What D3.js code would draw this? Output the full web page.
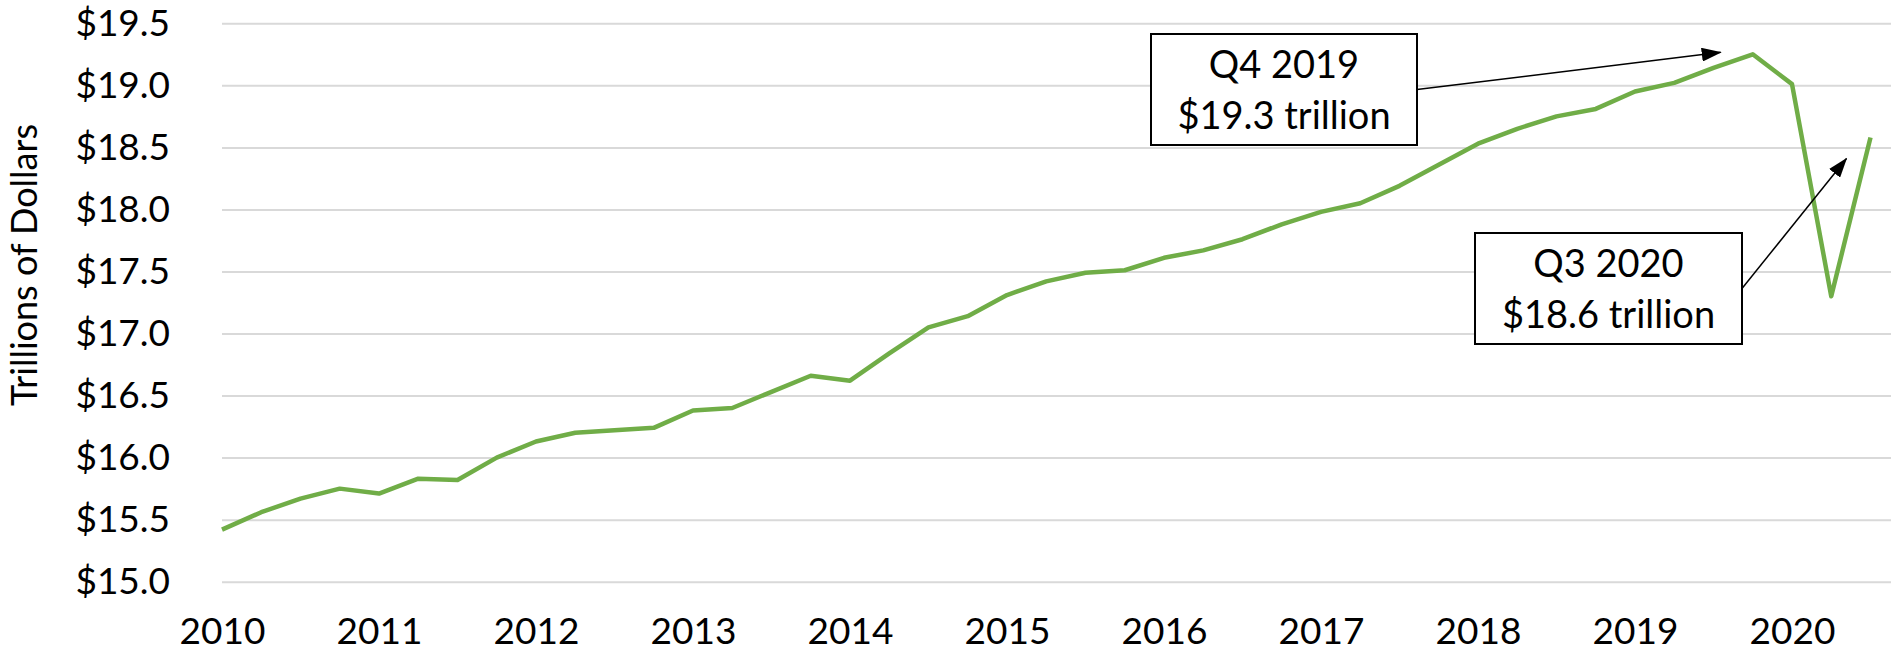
<!DOCTYPE html>
<html>
<head>
<meta charset="utf-8">
<script src="https://cdn.jsdelivr.net/npm/d3@7"></script>
<style>
  body { margin: 0; background: #fff; }
  svg text { font-family: Lato, "Open Sans", sans-serif; fill: #000; }
</style>
</head>
<body>
<svg id="chart" width="1892" height="654"></svg>
<script>
// Real GDP, trillions of chained dollars, quarterly 2010 Q1 .. 2020 Q3
var quarters = [
  '2010 Q1','2010 Q2','2010 Q3','2010 Q4','2011 Q1','2011 Q2','2011 Q3','2011 Q4',
  '2012 Q1','2012 Q2','2012 Q3','2012 Q4','2013 Q1','2013 Q2','2013 Q3','2013 Q4',
  '2014 Q1','2014 Q2','2014 Q3','2014 Q4','2015 Q1','2015 Q2','2015 Q3','2015 Q4',
  '2016 Q1','2016 Q2','2016 Q3','2016 Q4','2017 Q1','2017 Q2','2017 Q3','2017 Q4',
  '2018 Q1','2018 Q2','2018 Q3','2018 Q4','2019 Q1','2019 Q2','2019 Q3','2019 Q4',
  '2020 Q1','2020 Q2','2020 Q3'
];
var gdp = [
  15.42, 15.56, 15.67, 15.75, 15.71, 15.83, 15.82, 16.00,
  16.13, 16.20, 16.22, 16.24, 16.38, 16.40, 16.53, 16.66,
  16.62, 16.84, 17.05, 17.14, 17.31, 17.42, 17.49, 17.51,
  17.61, 17.67, 17.76, 17.88, 17.98, 18.05, 18.19, 18.36,
  18.53, 18.65, 18.75, 18.81, 18.95, 19.02, 19.14, 19.25,
  19.01, 17.30, 18.58
];
var yearLabels = ['2010','2011','2012','2013','2014','2015','2016','2017','2018','2019','2020'];
var yTicks = [15.0, 15.5, 16.0, 16.5, 17.0, 17.5, 18.0, 18.5, 19.0, 19.5];
var yTitle = 'Trillions of Dollars';

// callouts: which quarter they point at, and their two text lines
var noteQuarters = ['2019 Q4', '2020 Q3'];
var noteLines = [['Q4 2019', '$19.3 trillion'], ['Q3 2020', '$18.6 trillion']];

// layout (plot edges in px)
var plotLeft = 222, plotRight = 1870.5, plotTop = 23.3, plotBottom = 581.7;

var svg = d3.select('#chart');

var x = d3.scaleLinear().domain([0, quarters.length - 1]).range([plotLeft, plotRight]);
var y = d3.scaleLinear().domain([15, 19.5]).range([plotBottom, plotTop]);

// y axis labels + horizontal gridlines
var yAxis = d3.axisLeft(y)
  .tickValues(yTicks)
  .tickFormat(function (d) { return '$' + d3.format('.1f')(d); })
  .tickSizeInner(-(1891 - plotLeft))
  .tickSizeOuter(0)
  .tickPadding(52);

var yg = svg.append('g')
  .attr('transform', 'translate(' + plotLeft + ',0)')
  .call(yAxis);
yg.select('.domain').remove();
yg.selectAll('.tick line').attr('stroke', '#d9d9d9').attr('stroke-width', 2);
yg.selectAll('.tick text')
  .style('font-size', '37px')
  .attr('fill', '#000');

// x axis: year labels under each Q1
var xAxis = d3.axisBottom(x)
  .tickValues(yearLabels.map(function (d, i) { return i * 4; }))
  .tickFormat(function (d, i) { return yearLabels[i]; })
  .tickSize(0)
  .tickPadding(0);

var xg = svg.append('g')
  .attr('transform', 'translate(0,' + 618 + ')')
  .call(xAxis);
xg.select('.domain').remove();
xg.selectAll('.tick text')
  .style('font-size', '37px')
  .attr('fill', '#000');

// axis title
svg.append('text')
  .attr('transform', 'translate(37,' + 265 + ') rotate(-90)')
  .attr('text-anchor', 'middle')
  .style('font-size', '36px')
  .text(yTitle);

// the GDP line
var line = d3.line()
  .x(function (d, i) { return x(i); })
  .y(function (d) { return y(d); });

svg.append('path')
  .datum(gdp)
  .attr('d', line)
  .attr('fill', 'none')
  .attr('stroke', '#70ad47')
  .attr('stroke-width', 4.5)
  .attr('stroke-linejoin', 'round');

// arrowhead
svg.append('defs').append('marker')
  .attr('id', 'arrow')
  .attr('markerUnits', 'userSpaceOnUse')
  .attr('viewBox', '0 0 20 14')
  .attr('refX', 19)
  .attr('refY', 7)
  .attr('markerWidth', 20)
  .attr('markerHeight', 14)
  .attr('orient', 'auto')
  .append('path')
  .attr('d', 'M0,0 L20,7 L0,14 Z')
  .attr('fill', '#000');

// callout boxes (position of box, and arrow tip offset from the data point)
var boxes = [
  { x: 1151, y: 34, w: 266, h: 111, dx: -32, dy: -2 },
  { x: 1475, y: 233, w: 267, h: 111, dx: -24, dy: 21 }
];

boxes.forEach(function (b, k) {
  var qi = quarters.indexOf(noteQuarters[k]);
  var tipX = x(qi) + b.dx;
  var tipY = y(gdp[qi]) + b.dy;

  svg.append('line')
    .attr('x1', b.x + b.w)
    .attr('y1', b.y + b.h / 2)
    .attr('x2', tipX)
    .attr('y2', tipY)
    .attr('stroke', '#000')
    .attr('stroke-width', 1.5)
    .attr('marker-end', 'url(#arrow)');

  svg.append('rect')
    .attr('x', b.x)
    .attr('y', b.y)
    .attr('width', b.w)
    .attr('height', b.h)
    .attr('fill', '#fff')
    .attr('stroke', '#000')
    .attr('stroke-width', 2);

  svg.append('text')
    .attr('x', b.x + b.w / 2)
    .attr('y', b.y + 44)
    .attr('text-anchor', 'middle')
    .style('font-size', '38px')
    .text(noteLines[k][0]);

  svg.append('text')
    .attr('x', b.x + b.w / 2)
    .attr('y', b.y + 95)
    .attr('text-anchor', 'middle')
    .style('font-size', '38px')
    .text(noteLines[k][1]);
});
</script>
</body>
</html>
